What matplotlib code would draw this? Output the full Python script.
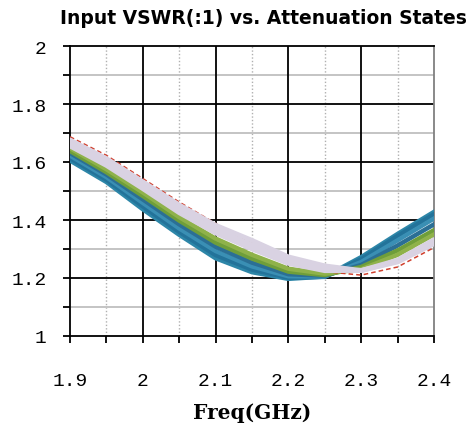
import matplotlib
matplotlib.use("Agg")
import matplotlib.pyplot as plt
from matplotlib.ticker import MultipleLocator, FixedLocator

# frekwencje (GHz) i wartosci VSWR dla kolejnych stanow tlumienia
freq = [1.9, 1.95, 2.0, 2.05, 2.1, 2.15, 2.2, 2.25, 2.3, 2.35, 2.4]

vswr_red = [1.687, 1.623, 1.543, 1.462, 1.388, 1.318, 1.262, 1.222, 1.210, 1.238, 1.305]
vswr_lav1 = [1.676, 1.612, 1.532, 1.452, 1.382, 1.330, 1.273, 1.242, 1.226, 1.255, 1.318]
vswr_lav2 = [1.665, 1.599, 1.519, 1.438, 1.368, 1.314, 1.261, 1.232, 1.225, 1.258, 1.325]
vswr_lav3 = [1.655, 1.588, 1.508, 1.425, 1.355, 1.300, 1.250, 1.225, 1.226, 1.262, 1.332]
vswr_grn1 = [1.648, 1.575, 1.495, 1.410, 1.336, 1.280, 1.232, 1.215, 1.230, 1.280, 1.350]
vswr_grn2 = [1.638, 1.565, 1.483, 1.398, 1.322, 1.267, 1.222, 1.210, 1.238, 1.295, 1.365]
vswr_blu1 = [1.631, 1.557, 1.471, 1.385, 1.308, 1.253, 1.213, 1.208, 1.245, 1.312, 1.385]
vswr_blu2 = [1.622, 1.548, 1.459, 1.371, 1.293, 1.240, 1.206, 1.205, 1.255, 1.330, 1.405]
vswr_blu3 = [1.613, 1.539, 1.447, 1.359, 1.279, 1.229, 1.201, 1.204, 1.265, 1.345, 1.420]
vswr_blu4 = [1.605, 1.531, 1.437, 1.349, 1.268, 1.220, 1.197, 1.205, 1.272, 1.352, 1.428]

xticks = [1.9, 2.0, 2.1, 2.2, 2.3, 2.4]
xticklabels = ["1.9", "2", "2.1", "2.2", "2.3", "2.4"]
yticks = [1.0, 1.2, 1.4, 1.6, 1.8, 2.0]
yticklabels = ["1", "1.2", "1.4", "1.6", "1.8", "2"]

fig = plt.figure(figsize=(4.74, 4.27), dpi=100)
ax = fig.add_axes([70 / 474, 1 - 337 / 427, 364 / 474, 290 / 427])

# siatka
for x in [1.95, 2.05, 2.15, 2.25, 2.35]:
    ax.axvline(x, color="#b0b0b0", lw=1.0, ls=(0, (1, 1.5)), zorder=1)
for y in [1.1, 1.3, 1.5, 1.7, 1.9]:
    ax.axhline(y, color="#c4c4c4", lw=1.4, zorder=1)
for x in xticks[1:-1]:
    ax.axvline(x, color="black", lw=1.3, zorder=1)
for y in yticks[1:-1]:
    ax.axhline(y, color="black", lw=1.3, zorder=1)

# krzywe - niebieskie na spodzie, lawendowe na wierzchu
blues = [("#2d86a8", vswr_blu4), ("#23739a", vswr_blu3), ("#3a8fb4", vswr_blu2), ("#2b6f95", vswr_blu1)]
for c, v in blues:
    ax.plot(freq, v, color=c, lw=3.2, zorder=3)
ax.plot(freq, vswr_grn2, color="#6f9e3a", lw=3.2, zorder=3)
ax.plot(freq, vswr_grn1, color="#8fb24a", lw=3.2, zorder=3)
ax.plot(freq, vswr_red, color="#d0402e", lw=1.1, ls=(0, (3, 2)), zorder=3)
for v in [vswr_lav3, vswr_lav2, vswr_lav1]:
    ax.plot(freq, v, color="#d9d2e2", lw=3.4, zorder=4)

ax.set_xlim(1.9, 2.4)
ax.set_ylim(1.0, 2.0)

ax.xaxis.set_major_locator(FixedLocator(xticks))
ax.xaxis.set_minor_locator(MultipleLocator(0.05))
ax.yaxis.set_major_locator(FixedLocator(yticks))
ax.yaxis.set_minor_locator(MultipleLocator(0.1))
ax.set_xticklabels(xticklabels, family="Liberation Mono", fontsize=14)
ax.set_yticklabels(yticklabels, family="Liberation Mono", fontsize=14)
ax.tick_params(axis="x", which="both", direction="out", length=5, width=1.3, pad=21)
ax.tick_params(axis="y", which="both", direction="out", length=5, width=1.3, pad=12)

for s in ["left", "bottom", "top"]:
    ax.spines[s].set_linewidth(1.3)
    ax.spines[s].set_color("black")
ax.spines["right"].set_color("#808080")
ax.spines["right"].set_linewidth(1.3)

ax.set_xlabel("Freq(GHz)", family="DejaVu Serif", fontweight="bold", fontsize=14.5, labelpad=9)
fig.text(263 / 474, 1 - 19 / 427, "Input VSWR(:1) vs. Attenuation States",
         ha="center", va="center", fontweight="bold", fontsize=13.5)

fig.savefig("out.png", dpi=100)
